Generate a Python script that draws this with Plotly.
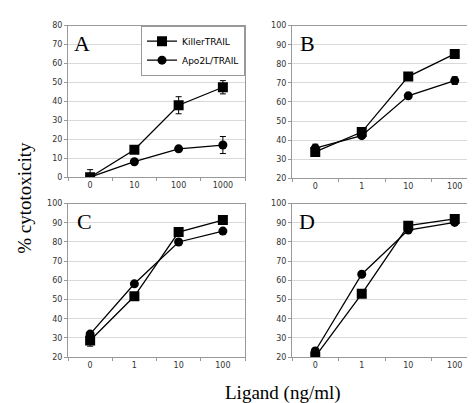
import plotly.graph_objects as go

cats_a = ["0", "10", "100", "1000"]
cats_bcd = ["0", "1", "10", "100"]

killer_a = [0, 14.5, 38, 47.5]
killer_a_err = [4, 1, 4.5, 3.5]
apo_a = [0, 8.2, 15, 17]
apo_a_err = [1, 1, 1, 4.5]

killer_b = [33.8, 44.2, 73.3, 85.2]
killer_b_err = [1, 1, 1, 1]
apo_b = [35.8, 42.3, 63.2, 71.2]
apo_b_err = [2, 1, 1, 2]

killer_c = [28.7, 51.7, 85.2, 91.4]
killer_c_err = [3, 1, 1, 1]
apo_c = [32, 58.2, 80, 85.7]
apo_c_err = [1, 1, 1, 1]

killer_d = [20.3, 53, 88.5, 92]
killer_d_err = [1, 1, 1, 1]
apo_d = [23.2, 63.2, 86.2, 90.2]
apo_d_err = [1, 1, 1, 1]

W, H = 475, 403
def xd(l, r):
    return [l / W, r / W]
def yd(t, b):
    return [1 - b / H, 1 - t / H]

panels = [
    dict(cats=cats_a, k=killer_a, ke=killer_a_err, a=apo_a, ae=apo_a_err,
         xdom=xd(60, 237), ydom=yd(14, 169), yr=[0, 80], letter="A", lx=74, ly=32),
    dict(cats=cats_bcd, k=killer_b, ke=killer_b_err, a=apo_b, ae=apo_b_err,
         xdom=xd(284, 470), ydom=yd(14, 170), yr=[20, 100], letter="B", lx=299, ly=32),
    dict(cats=cats_bcd, k=killer_c, ke=killer_c_err, a=apo_c, ae=apo_c_err,
         xdom=xd(60, 237), ydom=yd(196, 353), yr=[20, 100], letter="C", lx=76, ly=214),
    dict(cats=cats_bcd, k=killer_d, ke=killer_d_err, a=apo_d, ae=apo_d_err,
         xdom=xd(284, 470), ydom=yd(196, 353), yr=[20, 100], letter="D", lx=299, ly=214),
]

fig = go.Figure()
layout = {}
annotations = []
for i, p in enumerate(panels):
    n = "" if i == 0 else str(i + 1)
    xa, ya = "x" + n, "y" + n
    for name, vals, errs, sym, size in [
        ("KillerTRAIL", p["k"], p["ke"], "square", 10),
        ("Apo2L/TRAIL", p["a"], p["ae"], "circle", 9),
    ]:
        fig.add_trace(go.Scatter(
            x=p["cats"], y=vals, name=name, mode="lines+markers",
            xaxis=xa, yaxis=ya, showlegend=(i == 0),
            line=dict(color="black", width=1.3),
            marker=dict(symbol=sym, size=size, color="black"),
            error_y=dict(type="data", array=errs, color="black", thickness=1, width=3),
        ))
    layout["xaxis" + n] = dict(
        domain=p["xdom"], anchor=ya, type="category", range=[-0.5, 3.5],
        tickson="boundaries", ticks="outside", ticklen=3, tickcolor="#999",
        showline=True, linecolor="#999", mirror=True, showgrid=False,
        tickfont=dict(family="DejaVu Sans", size=8, color="#333"),
    )
    layout["yaxis" + n] = dict(
        domain=p["ydom"], anchor=xa, range=p["yr"], dtick=10,
        ticks="outside", ticklen=3, tickcolor="#999",
        showline=True, linecolor="#999", mirror=True,
        showgrid=True, gridcolor="#d9d9d9", gridwidth=1, zeroline=False,
        tickfont=dict(family="DejaVu Sans", size=8, color="#333"),
    )
    annotations.append(dict(
        text=p["letter"], xref="paper", yref="paper",
        x=p["lx"] / W, y=1 - p["ly"] / H, xanchor="center", yanchor="middle",
        showarrow=False, font=dict(family="Liberation Serif", size=22, color="black"),
    ))

annotations.append(dict(
    text="Ligand (ng/ml)", xref="paper", yref="paper",
    x=275 / W, y=1 - 390 / H, xanchor="center", yanchor="middle", showarrow=False,
    font=dict(family="Liberation Serif", size=19, color="black"),
))
annotations.append(dict(
    text="% cytotoxicity", xref="paper", yref="paper", textangle=-90,
    x=17 / W, y=1 - 190 / H, xanchor="center", yanchor="middle", showarrow=False,
    font=dict(family="Liberation Serif", size=19, color="black"),
))

fig.update_layout(
    **layout,
    annotations=annotations,
    width=W, height=H,
    margin=dict(l=0, r=0, t=0, b=0),
    paper_bgcolor="white", plot_bgcolor="white",
    legend=dict(
        x=237 / W, y=1 - 14 / H, xanchor="right", yanchor="top",
        bordercolor="#999", borderwidth=1, bgcolor="white",
        font=dict(family="DejaVu Sans", size=9, color="black"),
        tracegroupgap=0, itemwidth=30,
    ),
)

fig.write_html("out.html")
